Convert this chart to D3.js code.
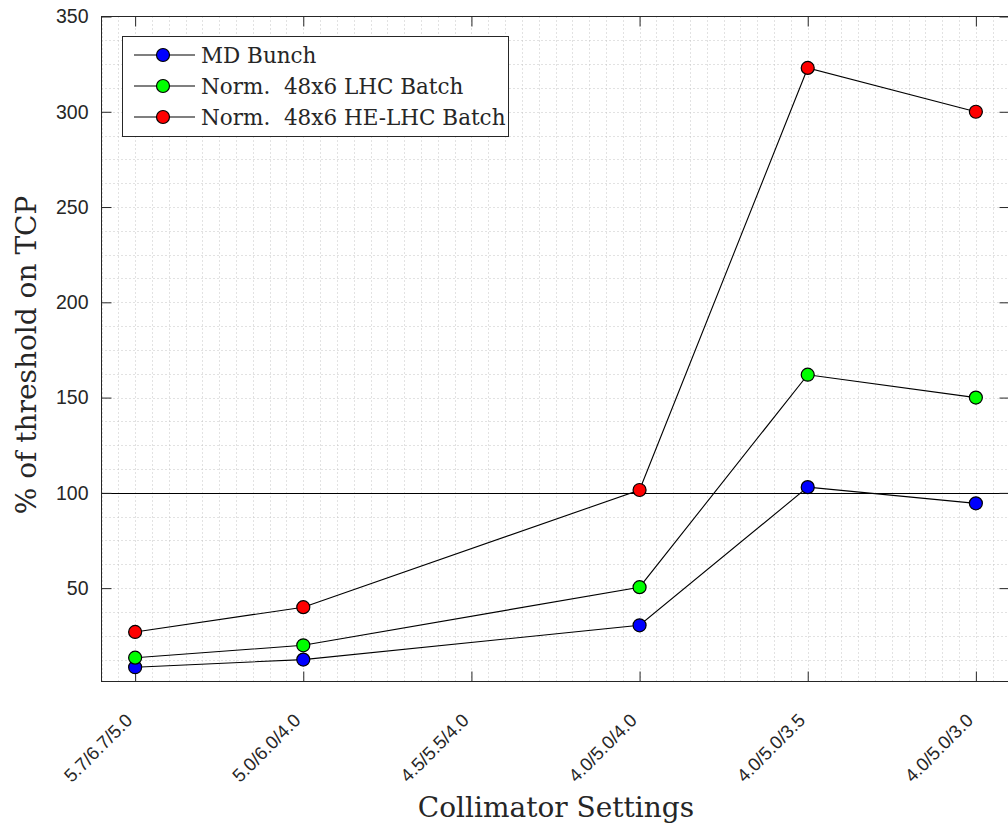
<!DOCTYPE html>
<meta charset="utf-8">
<script src="https://cdnjs.cloudflare.com/ajax/libs/d3/7.8.5/d3.min.js"></script>
<style>
body { margin: 0; background: #fff; }
.tick text { font-family: "Liberation Sans", Arial, sans-serif; fill: #262626; }
.tick line { stroke: #262626; }
.serif { font-family: "DejaVu Serif", serif; fill: #262626; }
</style>
<body>
<script>

// collimator settings on the x axis (null = no measurement)
var settings = ["5.7/6.7/5.0", "5.0/6.0/4.0", "4.5/5.5/4.0", "4.0/5.0/4.0", "4.0/5.0/3.5", "4.0/5.0/3.0"];
var mdBunch    = [8.5, 12.5, null, 30.5, 103, 94.5];
var lhcBatch   = [13.5, 20, null, 50.5, 162, 150];
var heLhcBatch = [27, 40, null, 101.5, 323, 300];
var seriesNames  = ["MD Bunch", "Norm. 48x6 LHC Batch", "Norm. 48x6 HE-LHC Batch"];
var seriesColors = ["#0000ff", "#00ff00", "#ff0000"];
var yTicks = [50, 100, 150, 200, 250, 300, 350];
var threshold = 100;

var series = [mdBunch, lhcBatch, heLhcBatch];

// plot box (note: "top" is reserved on window, so use other names)
var pLeft = 101.5, pRight = 1009.5, pTop = 16.5, pBottom = 681.5;

var svg = d3.select("body").append("svg")
    .attr("width", 1008)
    .attr("height", 830);

var x = d3.scaleLinear().domain([0.8, 6.2]).range([pLeft, pRight]);
var y = d3.scaleLinear().domain([1, 350]).range([pBottom, pTop]);

svg.append("clipPath").attr("id", "plot")
  .append("rect").attr("x", pLeft).attr("y", pTop)
  .attr("width", pRight - pLeft).attr("height", pBottom - pTop);

var plot = svg.append("g").attr("clip-path", "url(#plot)");

// minor + major grid (dotted)
var px = function(v) { return Math.round(v) + 0.5; };
plot.selectAll(".vgrid")
    .data(d3.range(8, 63).map(function(v) { return v / 10; }))
    .enter().append("line")
    .attr("x1", function(d) { return px(x(d)); })
    .attr("x2", function(d) { return px(x(d)); })
    .attr("y1", pTop).attr("y2", pBottom)
    .attr("stroke", "#c4c4c4")
    .attr("stroke-dasharray", "1,3");
plot.selectAll(".hgrid")
    .data(d3.range(1, 28).map(function(v) { return v * 12.5; }))
    .enter().append("line")
    .attr("y1", function(d) { return px(y(d)); })
    .attr("y2", function(d) { return px(y(d)); })
    .attr("x1", pLeft).attr("x2", pRight)
    .attr("stroke", "#c4c4c4")
    .attr("stroke-dasharray", "1,3");

// threshold line
plot.append("line")
    .attr("x1", pLeft).attr("x2", pRight)
    .attr("y1", px(y(threshold))).attr("y2", px(y(threshold)))
    .attr("stroke", "#000").attr("stroke-width", 1);

// axes (ticks pointing inward on all four sides)
var xCats = d3.range(1, settings.length + 1);

var yAxis = svg.append("g").attr("transform", "translate(" + pLeft + ",0)")
    .call(d3.axisLeft(y).tickValues(yTicks).tickSize(-10).tickPadding(13));
yAxis.selectAll("text").style("font-size", "19.5px");

svg.append("g").attr("transform", "translate(" + pRight + ",0)")
    .call(d3.axisRight(y).tickValues(yTicks).tickSize(-10).tickFormat(""));
svg.append("g").attr("transform", "translate(0," + pTop + ")")
    .call(d3.axisTop(x).tickValues(xCats).tickSize(-10).tickFormat(""));

var xAxis = svg.append("g").attr("transform", "translate(0," + pBottom + ")")
    .call(d3.axisBottom(x).tickValues(xCats).tickSize(-10)
      .tickFormat(function(d) { return settings[d - 1]; }));
xAxis.selectAll("text")
    .attr("x", 0).attr("y", 0).attr("dy", 0)
    .attr("text-anchor", "end")
    .attr("transform", "translate(-2,40) rotate(-45)")
    .style("font-size", "18.5px");

svg.selectAll(".domain").remove();

svg.append("rect")
    .attr("x", pLeft).attr("y", pTop)
    .attr("width", pRight - pLeft).attr("height", pBottom - pTop)
    .attr("fill", "none").attr("stroke", "#262626");

// data lines and markers
var line = d3.line()
    .x(function(d) { return x(d.i + 1); })
    .y(function(d) { return y(d.v); });

series.forEach(function(vals, k) {
  var pts = vals.map(function(v, i) { return {i: i, v: v}; })
                .filter(function(d) { return d.v != null; });
  svg.append("path")
      .datum(pts)
      .attr("d", line)
      .attr("fill", "none")
      .attr("stroke", "#000")
      .attr("stroke-width", 1.1);
  svg.selectAll(".pt" + k)
      .data(pts)
      .enter().append("circle")
      .attr("cx", function(d) { return x(d.i + 1); })
      .attr("cy", function(d) { return y(d.v); })
      .attr("r", 6.5)
      .attr("fill", seriesColors[k])
      .attr("stroke", "#000")
      .attr("stroke-width", 1.2);
});

// legend
svg.append("rect")
    .attr("x", 122.5).attr("y", 36.5)
    .attr("width", 386).attr("height", 100)
    .attr("fill", "#fff").attr("stroke", "#262626");

var legend = svg.selectAll(".legend")
    .data(seriesNames)
    .enter().append("g")
    .attr("transform", function(d, i) { return "translate(0," + (55 + i * 31) + ")"; });
legend.append("line")
    .attr("x1", 134).attr("x2", 195)
    .attr("stroke", "#000").attr("stroke-width", 1.1);
legend.append("circle")
    .attr("cx", 163).attr("r", 6.5)
    .attr("fill", function(d, i) { return seriesColors[i]; })
    .attr("stroke", "#000").attr("stroke-width", 1.2);
legend.append("text")
    .attr("class", "serif")
    .attr("x", 201).attr("dy", "0.36em")
    .style("font-size", "21.5px")
    .style("white-space", "pre")
    .text(function(d) { return d.replace("Norm. ", "Norm.  "); });

// axis titles
svg.append("text")
    .attr("class", "serif")
    .attr("transform", "translate(36,355) rotate(-90)")
    .attr("text-anchor", "middle")
    .style("font-size", "28px")
    .text("% of threshold on TCP");
svg.append("text")
    .attr("class", "serif")
    .attr("x", 556).attr("y", 817)
    .attr("text-anchor", "middle")
    .style("font-size", "28px")
    .text("Collimator Settings");

</script>
</body>
</html>
